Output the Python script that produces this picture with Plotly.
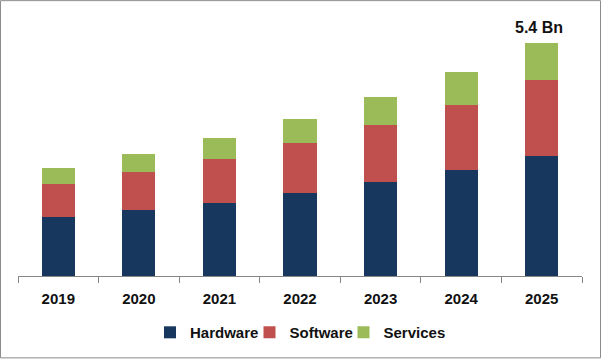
import plotly.graph_objects as go

years = ["2019", "2020", "2021", "2022", "2023", "2024", "2025"]
hardware = [1.36, 1.52, 1.70, 1.93, 2.17, 2.46, 2.78]
software = [0.78, 0.90, 1.01, 1.15, 1.33, 1.51, 1.75]
services = [0.37, 0.41, 0.48, 0.55, 0.64, 0.75, 0.87]
total_label = "5.4 Bn"

FONT = "Liberation Sans"
W, H = 601, 361
ML, MR, MT, MB = 18, 19, 20, 83
PW, PH = W - ML - MR, H - MT - MB


def px_x(p):
    return (p - ML) / PW


def px_y(p):
    return (PH + MT - p) / PH


fig = go.Figure()
fig.add_trace(go.Bar(x=years, y=hardware, name="<b>Hardware</b>", legend="legend",
                     marker=dict(color="#17375E", line=dict(width=0))))
fig.add_trace(go.Bar(x=years, y=software, name="<b>Software</b>", legend="legend2",
                     marker=dict(color="#C0504D", line=dict(width=0))))
fig.add_trace(go.Bar(x=years, y=services, name="<b>Services</b>", legend="legend3",
                     marker=dict(color="#9BBB59", line=dict(width=0))))

total_2025 = hardware[-1] + software[-1] + services[-1]
fig.add_annotation(x=len(years) - 1, y=total_2025, text="<b>" + total_label + "</b>",
                   showarrow=False, yanchor="bottom", yshift=5, xshift=-3,
                   font=dict(family=FONT, size=16, color="#111111"))

fig.add_shape(type="rect", xref="paper", yref="paper",
              x0=px_x(0.5), x1=px_x(W - 0.5), y0=px_y(H - 0.5), y1=px_y(0.5),
              line=dict(color="#8c8c8c", width=1), fillcolor="rgba(0,0,0,0)", layer="above")

leg_common = dict(orientation="h", xanchor="center", yanchor="middle", y=px_y(335),
                  font=dict(family=FONT, size=15, color="#111111"),
                  itemwidth=30, bgcolor="rgba(0,0,0,0)")

fig.update_layout(
    width=W, height=H,
    margin=dict(l=ML, r=MR, t=MT, b=MB),
    barmode="stack", bargap=0.59,
    paper_bgcolor="white", plot_bgcolor="white",
    font=dict(family=FONT, size=15, color="#111111"),
    showlegend=True,
    legend=dict(x=px_x(207), **leg_common),
    legend2=dict(x=px_x(304), **leg_common),
    legend3=dict(x=px_x(397), **leg_common),
    xaxis=dict(type="category", range=[-0.5, len(years) - 0.5], showline=True, linecolor="#868686",
               linewidth=1, ticks="outside", tickson="boundaries", ticklen=6, tickcolor="#868686",
               ticklabelstandoff=9,
               tickfont=dict(family=FONT, size=15, color="#111111"),
               showgrid=False, fixedrange=True),
    yaxis=dict(range=[0, 5.4 * PH / 235], visible=False, showgrid=False, fixedrange=True),
)
fig.update_xaxes(tickvals=years, ticktext=["<b>" + y + "</b>" for y in years])
fig.update_traces(hoverinfo="skip")

fig.write_html("out.html", config={"displayModeBar": False},
               post_script="document.body.style.margin='0';")
